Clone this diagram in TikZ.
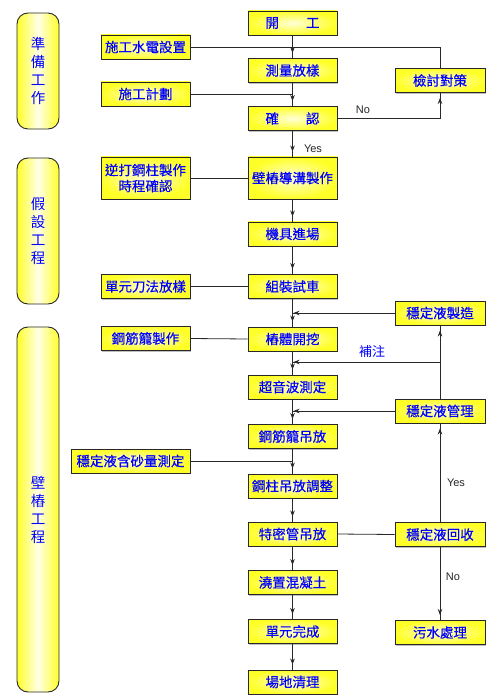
\documentclass[tikz,border=0pt]{standalone}
\usepackage{fontspec}
\setmainfont{Liberation Sans}
\newfontfamily\cjk[FakeBold=0.4]{Noto Sans CJK TC}
\newfontfamily\cjkthin{Noto Sans CJK TC}
\usetikzlibrary{arrows.meta,decorations.markings,shadows}
\definecolor{txtblue}{RGB}{0,0,255}
\definecolor{boxyel}{RGB}{255,255,40}
\definecolor{boxlight}{RGB}{255,255,215}
\definecolor{edge}{RGB}{40,40,40}
\begin{document}
\begin{tikzpicture}[x=1pt,y=-1pt,
  box/.style={draw=edge, line width=0.9pt, inner color=boxlight, outer color=boxyel,
    minimum height=24pt, inner sep=1pt, text=txtblue, align=center,
    font=\cjk\fontsize{13.5}{16}\selectfont,
    drop shadow={shadow xshift=1.2pt, shadow yshift=-1.2pt, opacity=0.5, fill=gray}},
  mainbox/.style={box, minimum width=89pt},
  sidebox/.style={box, minimum width=90pt},
  pill/.style={draw=edge, line width=0.9pt, rounded corners=11pt, minimum width=42pt,
    left color=boxyel, right color=boxyel, middle color=boxlight!60!white,
    text=txtblue, align=center, font=\cjkthin\fontsize{14.5}{18}\selectfont},
  conn/.style={draw=edge, line width=0.8pt},
  tipat/.style={postaction={decorate}, decoration={markings,
    mark=at position #1 with {\arrow[edge]{Stealth[length=6pt,width=4.5pt]}}}},
  lab/.style={text=black!85, font=\fontsize{11}{13}\selectfont, inner sep=0pt},
  bluelab/.style={text=txtblue, font=\cjkthin\fontsize{13}{15}\selectfont, inner sep=0pt}
]
\useasboundingbox (0,0) rectangle (500,700);

% phase pills
\node[pill, minimum height=116pt] (p1) at (38,71) {準\\備\\工\\作};
\node[pill, minimum height=146pt] (p2) at (38,231) {假\\設\\工\\程};
\node[pill, minimum height=365pt] (p3) at (38,509.5) {壁\\樁\\工\\程};

% main column
\node[mainbox] (kaigong)  at (292.5,23)    {開\hspace{2em}工};
\node[mainbox] (celiang)  at (292.5,70.5)  {測量放樣};
\node[mainbox] (queren)   at (292.5,118.5) {確\hspace{2em}認};
\node[mainbox, minimum height=42pt] (daogou) at (292.5,178) {壁樁導溝製作};
\node[mainbox] (jiju)     at (292.5,234)   {機具進場};
\node[mainbox] (zuzhuang) at (292.5,286.5) {組裝試車};
\node[mainbox] (kaiwa)    at (292.5,339)   {樁體開挖};
\node[mainbox] (chaoyin)  at (292.5,387)   {超音波測定};
\node[mainbox] (diaofang) at (292.5,436.5) {鋼筋籠吊放};
\node[mainbox] (gangzhu)  at (292.5,486)   {鋼柱吊放調整};
\node[mainbox] (temi)     at (292.5,534)   {特密管吊放};
\node[mainbox] (jiaozhi)  at (292.5,582.5) {澆置混凝土};
\node[mainbox] (wancheng) at (292.5,631.5) {單元完成};
\node[mainbox] (qingli)   at (292.5,682)   {場地清理};

% right column
\node[sidebox] (jiantao) at (440,80.5)  {檢討對策};
\node[sidebox] (zhizao)  at (440,313)   {穩定液製造};
\node[sidebox] (guanli)  at (440,411)   {穩定液管理};
\node[sidebox] (huishou) at (440,534.5) {穩定液回收};
\node[sidebox] (wushui)  at (440,632.5) {污水處理};

% left column
\node[mainbox] (shuidian) at (145.5,47)    {施工水電設置};
\node[mainbox] (jihua)    at (145.5,94)    {施工計劃};
\node[mainbox, minimum height=42pt] (nida) at (145.5,178) {逆打鋼柱製作\\時程確認};
\node[mainbox] (daofa)    at (145.5,286.5) {單元刀法放樣};
\node[mainbox] (gangjin)  at (145.5,338.5) {鋼筋籠製作};
\node[box, minimum width=119pt] (hansha) at (130.5,461) {穩定液含砂量測定};

% junctions
\coordinate (j1) at (kaigong.south |- shuidian.east);
\coordinate (j2) at (celiang.south |- jihua.east);
\coordinate (j3) at (zuzhuang.south |- zhizao.west);
\coordinate (k4) at (440,362);
\coordinate (j4) at (kaiwa.south |- k4);
\coordinate (j5) at (chaoyin.south |- guanli.west);
\coordinate (j6) at (diaofang.south |- hansha.east);

% main flow
\foreach \a/\b in {kaigong/celiang, celiang/queren, queren/daogou, daogou/jiju,
  jiju/zuzhuang, zuzhuang/kaiwa, kaiwa/chaoyin, chaoyin/diaofang, diaofang/gangzhu,
  gangzhu/temi, temi/jiaozhi, jiaozhi/wancheng, wancheng/qingli}
  \draw[conn, tipat=-5pt] (\a.south) -- (\b.north);

% left feeds
\draw[conn] (shuidian.east) -- (j1);
\draw[conn] (jihua.east) -- (j2);
\draw[conn] (nida.east) -- (daogou.west);
\draw[conn] (daofa.east) -- (zuzhuang.west);
\draw[conn] (gangjin.east) -- (kaiwa.west);
\draw[conn] (hansha.east) -- (j6);

% right loops
\draw[conn, tipat=-5pt] (queren.east) -| (jiantao.south);
\draw[conn] (jiantao.north) |- (j1);
\draw[conn, tipat=-1pt] (zhizao.west) -- (j3);
\draw[conn, tipat=-5pt] (guanli.north) -- (zhizao.south);
\draw[conn, tipat=-1pt] (k4) -- (j4);
\draw[conn, tipat=-1pt] (guanli.west) -- (j5);
\draw[conn, tipat=-5pt] (huishou.north) -- (guanli.south);
\draw[conn] (temi.east) -- (huishou.west);
\draw[conn, tipat=-5pt] (huishou.south) -- (wushui.north);

% labels
\node[lab] (no1)  at (363,110) {No};
\node[lab] (yes1) at (313,149) {Yes};
\node[bluelab] (buzhu) at (372,352) {補注};
\node[lab] (yes2) at (456,483) {Yes};
\node[lab] (no2)  at (453,577) {No};
\end{tikzpicture}
\end{document}
